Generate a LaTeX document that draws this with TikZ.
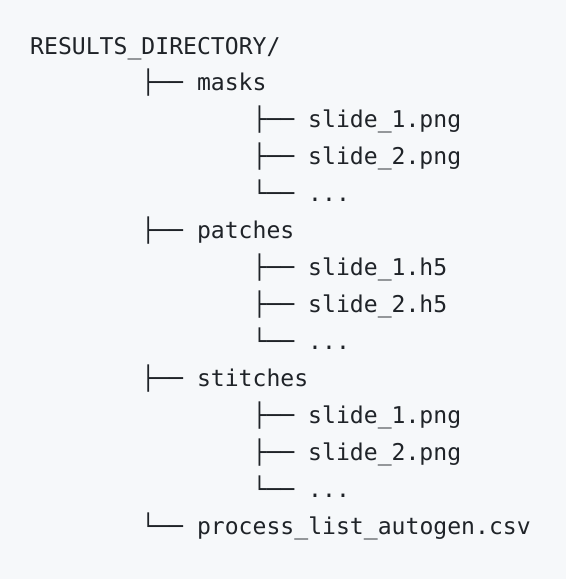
\documentclass[tikz,border=0pt]{standalone}
\usepackage{fontspec}
\setmonofont{DejaVu Sans Mono}
\definecolor{codebg}{HTML}{F6F8FA}
\definecolor{codefg}{HTML}{1F2328}
\tikzset{
  entry/.style={anchor=base west, inner sep=0pt, text=codefg,
    font=\fontsize{23.1pt}{27pt}\selectfont\ttfamily}
}
\begin{document}
\begin{tikzpicture}[x=1pt,y=-1pt]
        \fill[codebg] (0,0) rectangle (566,579);
        \useasboundingbox (0,0) rectangle (566,579);

        \node[entry] (root) at (30,54.0) {RESULTS\_DIRECTORY/};
        \node[entry] (masks) at (141.2,90.9) {├── masks};
        \node[entry] (masksA) at (252.4,127.8) {├── slide\_1.png};
        \node[entry] (masksB) at (252.4,164.8) {├── slide\_2.png};
        \node[entry] (masksC) at (252.4,201.7) {└── ...};
        \node[entry] (patches) at (141.2,238.6) {├── patches};
        \node[entry] (patchesA) at (252.4,275.5) {├── slide\_1.h5};
        \node[entry] (patchesB) at (252.4,312.4) {├── slide\_2.h5};
        \node[entry] (patchesC) at (252.4,349.4) {└── ...};
        \node[entry] (stitches) at (141.2,386.3) {├── stitches};
        \node[entry] (stitchesA) at (252.4,423.2) {├── slide\_1.png};
        \node[entry] (stitchesB) at (252.4,460.1) {├── slide\_2.png};
        \node[entry] (stitchesC) at (252.4,497.0) {└── ...};
        \node[entry] (csv) at (141.2,534.0) {└── process\_list\_autogen.csv};
  \end{tikzpicture}
\end{document}
